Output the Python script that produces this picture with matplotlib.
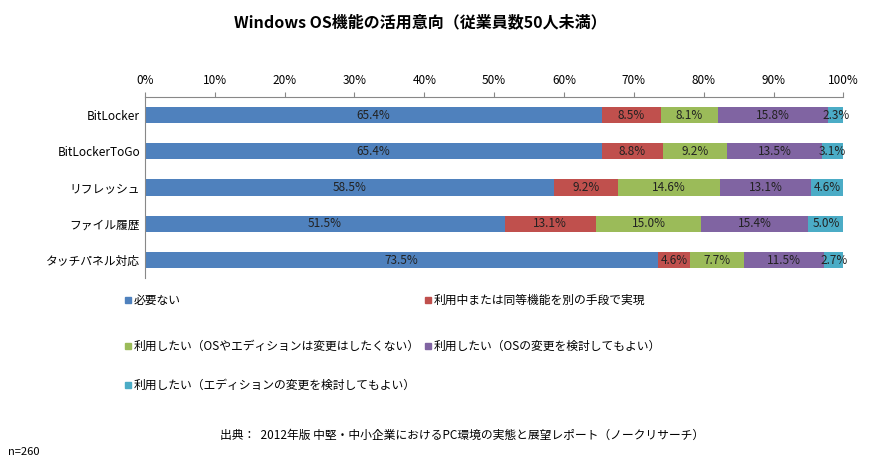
import matplotlib
matplotlib.use("Agg")
import matplotlib.pyplot as plt
from matplotlib.patches import Rectangle

plt.rcParams['font.family'] = ['Noto Sans CJK JP', 'DejaVu Sans']

categories = ["BitLocker", "BitLockerToGo", "リフレッシュ", "ファイル履歴", "タッチパネル対応"]
series_names = ["必要ない", "利用中または同等機能を別の手段で実現",
                "利用したい（OSやエディションは変更はしたくない）",
                "利用したい（OSの変更を検討してもよい）",
                "利用したい（エディションの変更を検討してもよい）"]
s1 = [65.4, 65.4, 58.5, 51.5, 73.5]
s2 = [8.5, 8.8, 9.2, 13.1, 4.6]
s3 = [8.1, 9.2, 14.6, 15.0, 7.7]
s4 = [15.8, 13.5, 13.1, 15.4, 11.5]
s5 = [2.3, 3.1, 4.6, 5.0, 2.7]
colors = ["#4F81BD", "#C0504D", "#9BBB59", "#8064A2", "#4BACC6"]

fig = plt.figure(figsize=(8.84, 4.66), dpi=100)
ax = fig.add_axes([0.164, 0.403, 0.79, 0.389])
y = list(range(len(categories)))
left = [0]*len(categories)
for vals, c in zip([s1, s2, s3, s4, s5], colors):
    ax.barh(y, vals, left=left, color=c, height=0.45)
    for i, v in enumerate(vals):
        ax.text(left[i] + v/2, i, f"{v:.1f}%", ha='center', va='center', fontsize=8.5, color='#222')
    left = [l + v for l, v in zip(left, vals)]
ax.set_xlim(0, 100)
ax.set_ylim(len(categories) - 0.5, -0.5)
ax.set_yticks(y)
ax.set_yticklabels(categories, fontsize=8.5)
ax.xaxis.tick_top()
ax.set_xticks(range(0, 101, 10))
ax.set_xticklabels([f"{t}%" for t in range(0, 101, 10)], fontsize=8.5)
for s in ['right', 'bottom']:
    ax.spines[s].set_visible(False)
ax.spines['top'].set_color('#888')
ax.spines['left'].set_color('#888')
ax.tick_params(axis='y', length=0)
ax.tick_params(axis='x', color='#888')

fig.text(0.476, 0.952, "Windows OS機能の活用意向（従業員数50人未満）", ha='center', va='center', fontsize=11.5, fontweight='bold')

legend_pos = [(125, 300), (425, 300), (125, 346), (425, 346), (125, 385)]
W, H = 884, 466
for (px, py), name, c in zip(legend_pos, series_names, colors):
    fig.patches.append(Rectangle((px/W, 1 - (py+3)/H), 6/W, 6/H, transform=fig.transFigure, color=c))
    fig.text((px+9)/W, 1 - py/H, name, ha='left', va='center', fontsize=8.5)

fig.text(220/W, 1 - 435/H, "出典：  2012年版 中堅・中小企業におけるPC環境の実態と展望レポート（ノークリサーチ）", ha='left', va='center', fontsize=8.5)
fig.text(8/W, 1 - 452/H, "n=260", ha='left', va='center', fontsize=8)

fig.savefig("out.png", dpi=100)
